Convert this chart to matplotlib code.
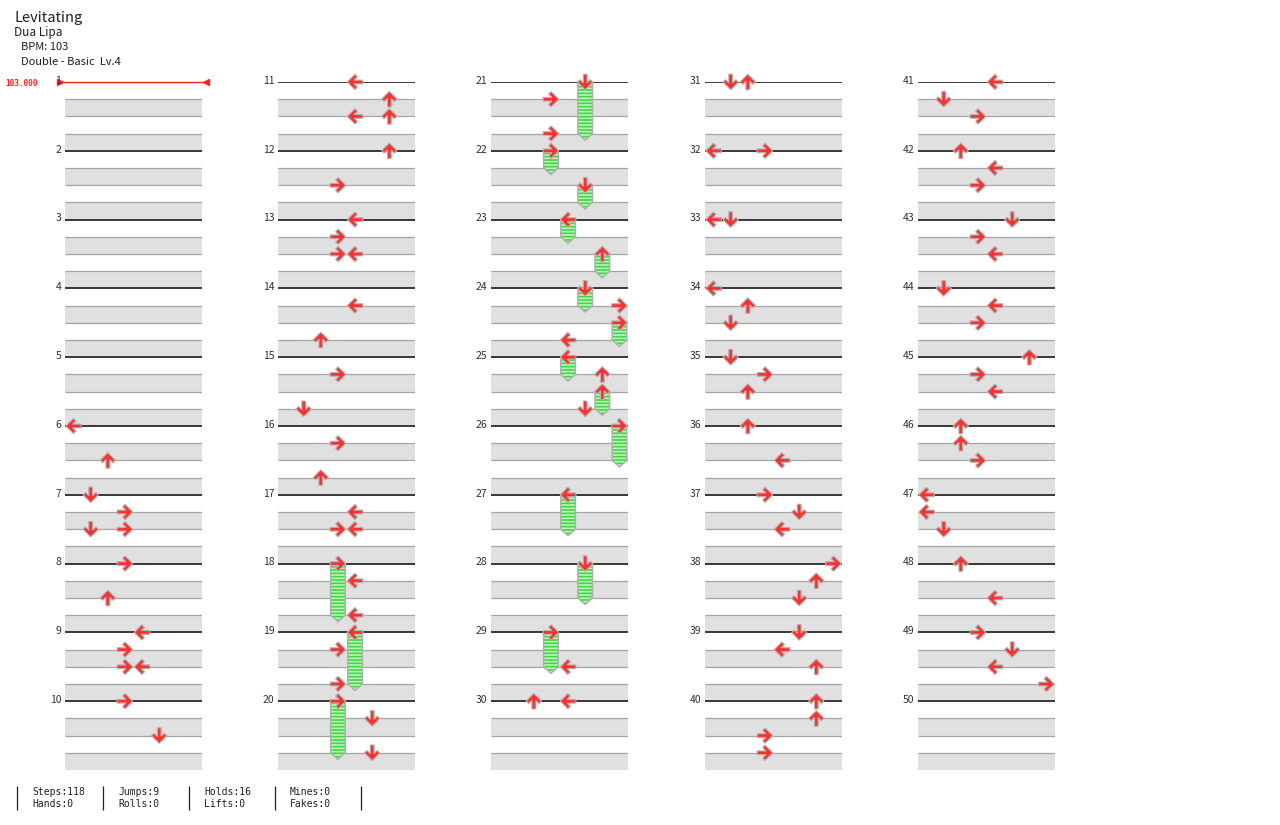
"""Step chart sheet for Levitating (Double - Basic Lv.4): 50 measures in five columns."""

import matplotlib

matplotlib.use("Agg")
import matplotlib.pyplot as plt
import numpy as np
from matplotlib.patches import Polygon, Rectangle

SONG_TITLE = "Levitating"
ARTIST = "Dua Lipa"
BPM_LABEL = "BPM: 103"
CHART_LABEL = "Double - Basic  Lv.4"
BPM_VALUE = 103.0

MEASURE_COUNT = 50
MEASURES_PER_COLUMN = 10
BEATS_PER_MEASURE = 4
LANE_DIRECTIONS = ["left", "down", "up", "right", "left", "down", "up", "right"]

# tap notes: measure number, beat inside the measure, lane (double pad, 0-7)
NOTE_MEASURES = [
    6, 6, 7, 7, 7, 7, 8, 8, 9, 9, 9, 9, 10, 10,
    11, 11, 11, 11, 12, 12, 13, 13, 13, 13, 14, 14, 15, 15, 16, 16,
    17, 17, 17, 18, 18, 18, 19, 19, 19, 20, 20, 20,
    21, 21, 21, 22, 22, 23, 23, 24, 24, 24, 24, 25, 25, 25, 25,
    26, 27, 28, 29, 29, 30, 30,
    31, 31, 32, 32, 33, 33, 34, 34, 34, 35, 35, 35, 36, 36,
    37, 37, 37, 38, 38, 38, 39, 39, 39, 40, 40, 40, 40,
    41, 41, 41, 42, 42, 42, 43, 43, 43, 44, 44, 44, 45, 45, 45,
    46, 46, 46, 47, 47, 47, 48, 48, 49, 49, 49, 49,
]
NOTE_BEATS = [
    0, 2, 0, 1, 2, 2, 0, 2, 0, 1, 2, 2, 0, 2,
    0, 1, 2, 2, 0, 2, 0, 1, 2, 2, 1, 3, 1, 3, 1, 3,
    1, 2, 2, 0, 1, 3, 0, 1, 3, 0, 1, 3,
    0, 1, 3, 0, 2, 0, 2, 0, 1, 2, 3, 0, 1, 2, 3,
    0, 0, 0, 0, 2, 0, 0,
    0, 0, 0, 0, 0, 0, 0, 1, 2, 0, 1, 2, 0, 2,
    0, 1, 2, 0, 1, 2, 0, 1, 2, 0, 1, 2, 3,
    0, 1, 2, 0, 1, 2, 0, 1, 2, 0, 1, 2, 0, 1, 2,
    0, 1, 2, 0, 1, 2, 0, 2, 0, 1, 2, 3,
]
NOTE_LANES = [
    0, 2, 1, 3, 1, 3, 3, 2, 4, 3, 3, 4, 3, 5,
    4, 6, 4, 6, 6, 3, 4, 3, 3, 4, 4, 2, 3, 1, 3, 2,
    4, 3, 4, 3, 4, 4, 4, 3, 3, 3, 5, 5,
    5, 3, 3, 3, 5, 4, 6, 5, 7, 7, 4, 4, 6, 6, 5,
    7, 4, 5, 3, 4, 2, 4,
    1, 2, 0, 3, 0, 1, 0, 2, 1, 1, 3, 2, 2, 4,
    3, 5, 4, 7, 6, 5, 5, 4, 6, 6, 6, 3, 3,
    4, 1, 3, 2, 4, 3, 5, 3, 4, 1, 4, 3, 6, 3, 4,
    2, 2, 3, 0, 0, 1, 2, 4, 3, 5, 4, 7,
]

# freeze arrows: start measure, start beat, lane, length in beats
HOLD_MEASURES = [18, 19, 20, 21, 22, 22, 23, 23, 24, 24, 25, 25, 26, 27, 28, 29]
HOLD_BEATS = [0, 0, 0, 0, 0, 2, 0, 2, 0, 2, 0, 2, 0, 0, 0, 0]
HOLD_LANES = [3, 4, 3, 5, 3, 5, 4, 6, 5, 7, 4, 6, 7, 4, 5, 3]
HOLD_LENGTHS = [3, 3, 3, 3, 1, 1, 1, 1, 1, 1, 1, 1, 2, 2, 2, 2]

STAT_NAMES_TOP = ["Steps", "Jumps", "Holds", "Mines"]
STAT_VALUES_TOP = [118, 9, 16, 0]
STAT_NAMES_BOTTOM = ["Hands", "Rolls", "Lifts", "Fakes"]
STAT_VALUES_BOTTOM = [0, 0, 0, 0]

# page layout, in pixels of the 1280x825 output
WIDTH_PX, HEIGHT_PX = 1280, 825
COLUMN_LEFT_PX = [65, 278, 491, 705, 918]
COLUMN_WIDTH_PX = 137
TOP_PX = 82
BEAT_PX = 17.2
LANE_PX = COLUMN_WIDTH_PX / len(LANE_DIRECTIONS)
ARROW_RADIUS_PX = 7.8

BAND_COLOR = "#e0e0e0"
BEAT_LINE_COLOR = "#a4a4a4"
MEASURE_LINE_COLOR = "#2a2a2a"
ARROW_COLOR = "#ff3030"
ARROW_EDGE = "#b4b4b4"
HOLD_COLOR = "#3fd83f"
HOLD_STRIPE = "#bdf5bd"
HOLD_EDGE = "#b0b0b0"
BPM_COLOR = "#ff2020"
TEXT_FONT = ["Noto Sans CJK JP", "DejaVu Sans"]
MONO_FONT = ["DejaVu Sans Mono"]

# up-pointing arrow outline, unit half-size
ARROW_SHAPE = np.array([
    (0.0, 1.0), (0.98, 0.02), (0.66, -0.3), (0.24, 0.12), (0.24, -1.0),
    (-0.24, -1.0), (-0.24, 0.12), (-0.66, -0.3), (-0.98, 0.02),
])
ROTATION = {"up": 0.0, "left": 90.0, "down": 180.0, "right": -90.0}


def note_position(measure, beat):
    column = (measure - 1) // MEASURES_PER_COLUMN
    row = (measure - 1) % MEASURES_PER_COLUMN
    return column, row * BEATS_PER_MEASURE + beat


def draw_grid(axis, column):
    rows = MEASURES_PER_COLUMN * BEATS_PER_MEASURE
    for row in range(MEASURES_PER_COLUMN):
        start = row * BEATS_PER_MEASURE
        for band in (1, 3):
            axis.add_patch(Rectangle((0, start + band), len(LANE_DIRECTIONS), 1,
                                     facecolor=BAND_COLOR, edgecolor="none", zorder=1))
        axis.hlines([start + 1, start + 2, start + 3], 0, len(LANE_DIRECTIONS),
                    color=BEAT_LINE_COLOR, linewidth=0.9, zorder=2)
        measure = column * MEASURES_PER_COLUMN + row + 1
        if measure == 1:
            axis.hlines(start, -0.42, len(LANE_DIRECTIONS) + 0.35, color=BPM_COLOR,
                        linewidth=1.0, zorder=2, clip_on=False)
            axis.plot([-0.3], [start], marker=">", color=BPM_COLOR, markersize=4.5,
                      clip_on=False, zorder=3)
            axis.plot([len(LANE_DIRECTIONS) + 0.25], [start], marker="<", color=BPM_COLOR,
                      markersize=4.5, clip_on=False, zorder=3)
            axis.text(-1.58, start + 0.1, f"{BPM_VALUE:.3f}", ha="right", va="center",
                      color=BPM_COLOR, fontsize=5.6, fontweight="bold", family=MONO_FONT)
        else:
            axis.hlines(start, 0, len(LANE_DIRECTIONS), color=MEASURE_LINE_COLOR,
                        linewidth=1.3, zorder=2)
        axis.text(-0.22, start + 0.1, str(measure), ha="right", va="baseline",
                  fontsize=7.5, color="#303030", family=TEXT_FONT)
    axis.set_xlim(0, len(LANE_DIRECTIONS))
    axis.set_ylim(rows, 0)
    axis.axis("off")


def draw_hold(axis, lane, start, length):
    half = 7.3 / LANE_PX
    tip = 6.5 / BEAT_PX
    center = lane + 0.5
    end = start + length
    outline = [(center - half, start), (center + half, start), (center + half, end),
               (center, end + tip), (center - half, end)]
    axis.add_patch(Polygon(outline, closed=True, facecolor=HOLD_COLOR, edgecolor=HOLD_STRIPE,
                           linewidth=0, hatch="-----", zorder=4, clip_on=False))
    axis.add_patch(Polygon(outline, closed=True, fill=False, edgecolor=HOLD_EDGE,
                           linewidth=1.1, zorder=4.5, clip_on=False))


def draw_arrow(axis, lane, position, direction):
    angle = np.deg2rad(ROTATION[direction])
    rotation = np.array([[np.cos(angle), -np.sin(angle)], [np.sin(angle), np.cos(angle)]])
    points = ARROW_SHAPE @ rotation.T * ARROW_RADIUS_PX
    xs = lane + 0.5 + points[:, 0] / LANE_PX
    ys = position - points[:, 1] / BEAT_PX
    axis.add_patch(Polygon(np.column_stack([xs, ys]), closed=True, facecolor=ARROW_COLOR,
                           edgecolor=ARROW_EDGE, linewidth=0.8, joinstyle="miter",
                           zorder=6, clip_on=False))


def main():
    assert len(NOTE_MEASURES) == len(NOTE_BEATS) == len(NOTE_LANES)
    plt.rcParams["hatch.linewidth"] = 1.2
    figure = plt.figure(figsize=(WIDTH_PX / 100, HEIGHT_PX / 100), dpi=100)
    figure.patch.set_facecolor("white")

    column_count = MEASURE_COUNT // MEASURES_PER_COLUMN
    height_px = MEASURES_PER_COLUMN * BEATS_PER_MEASURE * BEAT_PX
    axes = []
    for column in range(column_count):
        axis = figure.add_axes([
            COLUMN_LEFT_PX[column] / WIDTH_PX,
            (HEIGHT_PX - TOP_PX - height_px) / HEIGHT_PX,
            COLUMN_WIDTH_PX / WIDTH_PX,
            height_px / HEIGHT_PX,
        ])
        draw_grid(axis, column)
        axes.append(axis)

    for measure, beat, lane, length in zip(HOLD_MEASURES, HOLD_BEATS, HOLD_LANES, HOLD_LENGTHS):
        column, position = note_position(measure, beat)
        draw_hold(axes[column], lane, position, length)

    for measure, beat, lane in zip(NOTE_MEASURES, NOTE_BEATS, NOTE_LANES):
        column, position = note_position(measure, beat)
        draw_arrow(axes[column], lane, position, LANE_DIRECTIONS[lane])

    page = figure.add_axes([0, 0, 1, 1], zorder=-1)
    page.set_xlim(0, WIDTH_PX)
    page.set_ylim(HEIGHT_PX, 0)
    page.axis("off")
    page.text(14, 22, SONG_TITLE, fontsize=10.5, color="#202020", family=TEXT_FONT, va="baseline")
    page.text(14, 36, ARTIST, fontsize=8.5, color="#202020", family=TEXT_FONT, va="baseline")
    page.text(21, 50.5, BPM_LABEL, fontsize=8, color="#202020", family=TEXT_FONT, va="baseline")
    page.text(21, 65, CHART_LABEL, fontsize=8, color="#202020", family=TEXT_FONT, va="baseline")

    cell_px = 86
    for index in range(len(STAT_NAMES_TOP) + 1):
        page.vlines(17 + index * cell_px, 786, 810, color="#202020", linewidth=0.9)
    for index, (name, value) in enumerate(zip(STAT_NAMES_TOP, STAT_VALUES_TOP)):
        page.text(32 + index * cell_px, 792, f"{name}:{value}", fontsize=7, family=MONO_FONT,
                  color="#202020", va="center")
    for index, (name, value) in enumerate(zip(STAT_NAMES_BOTTOM, STAT_VALUES_BOTTOM)):
        page.text(32 + index * cell_px, 804, f"{name}:{value}", fontsize=7, family=MONO_FONT,
                  color="#202020", va="center")

    figure.savefig("out.png", dpi=100, facecolor="white")
    plt.close(figure)


if __name__ == "__main__":
    main()
